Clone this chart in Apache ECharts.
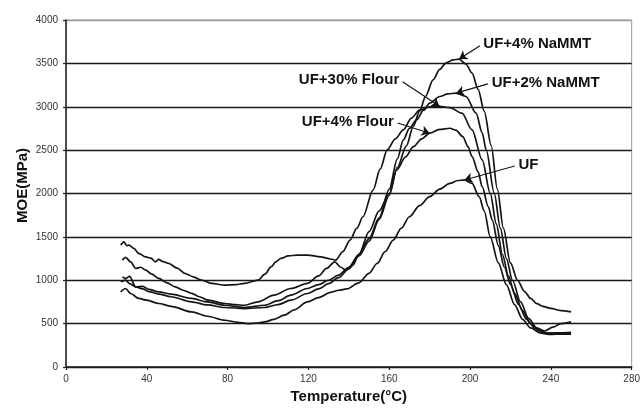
<!DOCTYPE html>
<html><head><meta charset="utf-8">
<script src="https://cdn.jsdelivr.net/npm/echarts@6/dist/echarts.min.js"></script>
<style>html,body{margin:0;padding:0;background:#fff}#c{width:643px;height:410px}</style>
</head><body><div id="c"></div>
<script>
// ---- axis ticks ----
const xTickValues = [0, 40, 80, 120, 160, 200, 240, 280];
const yTickValues = [0, 500, 1000, 1500, 2000, 2500, 3000, 3500, 4000];

// ---- series: temperature (°C) and MOE (MPa) ----
const seriesNames = ['UF+4% NaMMT', 'UF+2% NaMMT', 'UF+30% Flour', 'UF+4% Flour', 'UF'];

const tNaMMT4 = [27.9,29.5,32.0,34.5,37.0,39.4,42.5,45.9,50.0,54.1,58.0,62.2,66.0,70.4,78.6,84.0,88.4,95.0,103.0,111.3,119.5,125.0,129.0,133.0,136.0,138.5,142.0,145.0,150.0,155.0,160.0,164.0,168.5,172.0,175.0,178.0,181.7,185.0,188.0,191.5,194.6,198.0,201.0,204.0,207.0,210.5,213.5,216.5,220.0,223.5,227.0,230.0,233.0,236.0,240.0,245.0,250.0];
const mNaMMT4 = [1232,1263,1212,1136,1150,1117,1070,1021,970,924,885,848,810,770,732,718,712,751,828,905,963,1050,1136,1212,1150,1117,1174,1300,1560,1800,2000,2300,2550,2780,2950,3120,3310,3430,3503,3540,3550,3490,3388,3200,2950,2550,2050,1600,1200,1000,870,790,730,700,675,650,635];

const tNaMMT2 = [27.9,29.5,31.5,34.5,38.0,41.0,45.9,52.0,62.2,70.0,78.6,88.4,98.3,105.0,111.3,119.5,125.0,130.0,135.0,140.0,145.0,150.0,155.0,160.0,164.0,167.0,170.0,173.5,177.0,180.0,185.0,189.0,193.1,198.0,203.0,206.0,208.0,212.0,215.0,218.0,221.0,225.0,229.0,233.0,237.0,241.0,245.0,250.0];
const mNaMMT2 = [1039,1021,1045,924,930,895,866,840,790,750,712,686,712,765,828,905,950,1000,1060,1150,1300,1480,1720,2050,2400,2618,2750,2849,2960,3041,3118,3148,3157,3118,2926,2700,2502,2002,1600,1250,1000,750,560,450,415,460,500,520];

const tFlour30 = [27.1,28.7,30.0,31.2,33.6,36.0,39.4,42.0,44.3,45.9,48.0,50.8,55.0,59.0,63.0,67.1,72.0,78.6,84.0,88.4,95.0,98.5,101.5,104.0,106.4,110.0,114.6,119.5,126.0,131.0,133.5,137.0,140.6,144.0,147.0,152.0,155.5,159.0,163.0,167.0,171.0,175.0,180.0,184.9,190.0,196.0,201.0,206.0,210.0,213.0,216.0,219.0,222.0,226.0,230.0,234.0,238.0,244.0,250.0];
const mFlour30 = [1405,1443,1400,1405,1367,1309,1270,1255,1212,1240,1215,1194,1140,1078,1040,1001,965,943,950,963,1001,1070,1155,1215,1252,1280,1290,1290,1270,1245,1232,1330,1463,1600,1732,2040,2280,2502,2630,2733,2870,2960,3000,3005,2990,2926,2733,2387,2002,1650,1300,1050,850,650,500,420,390,385,385];

const tFlour4 = [27.1,29.5,31.5,34.5,38.0,41.0,45.9,52.0,62.2,70.0,78.6,88.4,98.3,105.0,111.3,119.5,125.0,130.0,135.0,140.0,145.0,150.0,155.0,160.0,163.7,168.0,172.0,176.0,180.0,185.0,190.0,193.0,196.4,199.0,201.0,204.0,206.0,209.0,211.0,214.0,217.0,220.0,224.0,228.0,232.0,236.0,240.0,245.0,250.0];
const mFlour4 = [982,1001,960,924,900,870,840,810,751,715,686,674,686,720,770,847,900,960,1030,1130,1280,1450,1700,1980,2271,2420,2540,2630,2695,2740,2752,2730,2656,2540,2425,2250,2079,1850,1694,1400,1150,950,720,550,450,400,390,395,400];

const tUF = [27.1,29.5,32.0,36.0,40.0,45.9,52.0,62.2,70.0,78.6,85.0,90.0,94.0,98.3,103.0,108.0,113.0,119.5,125.0,131.0,135.0,139.0,145.0,150.0,154.0,158.0,162.0,166.0,170.0,175.0,180.0,185.0,190.0,194.0,197.2,201.0,204.5,207.0,210.0,214.0,218.0,222.0,226.0,230.0,235.0,240.0,245.0,250.0];
const mUF = [866,905,847,790,770,732,700,635,585,539,515,501,505,520,550,597,660,751,800,860,885,900,970,1080,1193,1330,1463,1600,1732,1860,1963,2050,2117,2150,2156,2117,1963,1800,1500,1200,950,720,550,450,390,375,380,380];

// ---- annotation leader lines: [label anchor (T, MOE), arrow tip (T, MOE)] ----
const annFrom = [[204.9,3703],[208.8,3264],[166.6,3288],[164.2,2813],[222.1,2317]];
const annTo   = [[194.6,3550],[193.1,3157],[184.9,3005],[180.0,2695],[197.2,2156]];

const temps = [tNaMMT4, tNaMMT2, tFlour30, tFlour4, tUF];
const moes  = [mNaMMT4, mNaMMT2, mFlour30, mFlour4, mUF];

const FONT = 'Liberation Sans, Arial, Helvetica, sans-serif';
const INK = '#141414';

const series = seriesNames.map((name, k) => ({
  type: 'line',
  name: name,
  data: temps[k].map((t, i) => [t, moes[k][i]]),
  showSymbol: false,
  symbol: 'none',
  smooth: 0.3,
  smoothMonotone: 'x',
  silent: true,
  lineStyle: { color: INK, width: 1.7 },
  markLine: {
    silent: true,
    animation: false,
    symbol: ['none', 'arrow'],
    symbolSize: 8,
    lineStyle: { color: INK, width: 1.2, type: 'solid' },
    label: {
      show: true, position: 'start', formatter: name, distance: 4,
      fontSize: 15, fontWeight: 'bold', color: '#111', fontFamily: FONT
    },
    emphasis: { disabled: true },
    data: [[{ coord: annFrom[k] }, { coord: annTo[k] }]]
  }
}));

const chart = echarts.init(document.getElementById('c'), null, { renderer: 'canvas' });
chart.setOption({
  animation: false,
  backgroundColor: '#fff',
  grid: { left: 66, right: 6, top: 20, bottom: 43, show: true, borderColor: '#9a9a9a', borderWidth: 1 },
  xAxis: {
    type: 'value', min: xTickValues[0], max: xTickValues[xTickValues.length - 1], interval: 40,
    name: 'Temperature(°C)', nameLocation: 'middle', nameGap: 22,
    nameTextStyle: { fontSize: 15, fontWeight: 'bold', color: '#111', fontFamily: FONT },
    axisLine: { show: true, lineStyle: { color: '#222', width: 1.5 } },
    axisTick: { show: true, length: 3, inside: false, lineStyle: { color: '#222', width: 1.2 } },
    axisLabel: { fontSize: 10, color: '#333', margin: 7, fontFamily: FONT, formatter: v => String(v) },
    splitLine: { show: false }
  },
  yAxis: {
    type: 'value', min: yTickValues[0], max: yTickValues[yTickValues.length - 1], interval: 500,
    name: 'MOE(MPa)', nameLocation: 'middle', nameGap: 36, nameRotate: 90, nameMoveOverlap: false,
    nameTextStyle: { fontSize: 15, fontWeight: 'bold', color: '#111', fontFamily: FONT, padding: [0, 0, 0, 16] },
    axisLine: { show: true, lineStyle: { color: '#222', width: 1.5 } },
    axisTick: { show: true, length: 3, inside: false, lineStyle: { color: '#222', width: 1.2 } },
    axisLabel: { fontSize: 10, color: '#333', margin: 8, fontFamily: FONT, formatter: v => String(v) },
    splitLine: { show: true, lineStyle: { color: ['#1a1a1a','#1a1a1a','#1a1a1a','#1a1a1a','#1a1a1a','#1a1a1a','#1a1a1a','#1a1a1a','#9a9a9a'], width: 1.4 } }
  },
  series: series
});
</script>
</body></html>
